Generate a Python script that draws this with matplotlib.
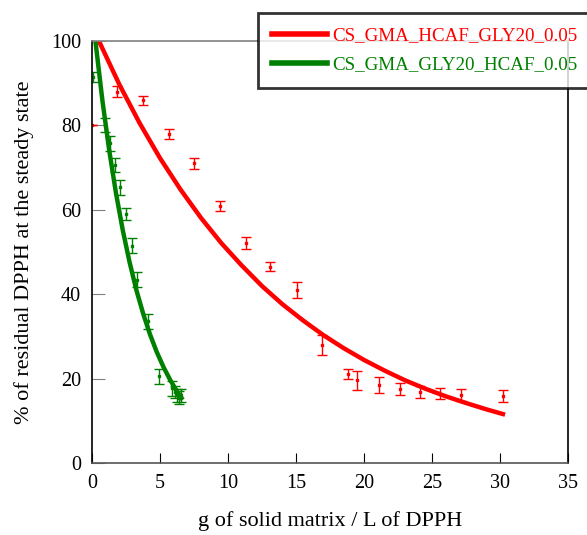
import numpy as np
import matplotlib.pyplot as plt

# measured points, red series
red_x = [0.0, 1.86, 3.77, 5.66, 7.52, 9.4, 11.3, 13.1, 15.05, 16.9, 18.8, 19.5, 21.1, 22.6, 24.1, 25.6, 27.1, 30.2]
red_y = [80.0, 88.0, 86.0, 78.0, 71.0, 61.0, 52.1, 46.5, 41.0, 28.0, 21.0, 19.6, 18.5, 17.5, 16.8, 16.4, 16.2, 15.9]
red_err = [0.0, 1.3, 1.1, 1.2, 1.2, 1.2, 1.4, 1.1, 1.8, 2.3, 1.2, 2.2, 1.8, 1.4, 1.4, 1.3, 1.4, 1.4]

# measured points, green series
green_x = [0.07, 0.93, 1.3, 1.66, 2.08, 2.52, 2.94, 3.33, 4.12, 4.93, 5.9, 6.1, 6.25, 6.4, 6.55]
green_y = [91.5, 80.1, 75.8, 70.6, 65.3, 59.0, 51.5, 43.4, 33.6, 20.5, 17.7, 16.8, 16.0, 15.5, 16.0]
green_err = [1.2, 1.6, 1.8, 1.6, 1.8, 1.5, 1.8, 1.8, 1.8, 1.8, 1.8, 1.5, 1.6, 1.5, 1.6]

# fitted curves
red_fit_x = [0.5, 2.0, 3.5, 5.0, 6.5, 8.0, 9.5, 11.0, 12.5, 14.0, 15.5, 17.0, 18.5, 20.0,
             21.5, 23.0, 24.5, 26.0, 27.5, 29.0, 30.2]
red_fit_y = [100.0, 89.7, 80.5, 72.2, 64.8, 58.1, 52.1, 46.8, 41.9, 37.6, 33.8, 30.3, 27.2, 24.4,
             21.9, 19.6, 17.6, 15.8, 14.2, 12.7, 11.6]
green_fit_x = [0.24, 0.75, 1.25, 1.75, 2.25, 2.75, 3.25, 3.75, 4.25, 4.75, 5.25, 5.75, 6.25, 6.57]
green_fit_y = [100.0, 86.0, 74.2, 64.0, 55.2, 47.6, 41.0, 35.4, 30.5, 26.3, 22.7, 19.6, 16.9, 15.4]

labels = ['CS_GMA_HCAF_GLY20_0.05', 'CS_GMA_GLY20_HCAF_0.05']
red = '#ff0000'
green = '#008000'

plt.rcParams['font.family'] = ['Liberation Serif', 'DejaVu Serif']

fig = plt.figure(figsize=(5.87, 5.35), dpi=100)
ax = fig.add_axes([0.157, 0.1346, 0.811, 0.7886])

l1, = ax.plot(red_fit_x, red_fit_y, color=red, lw=3.2, solid_joinstyle='round')
l2, = ax.plot(green_fit_x, green_fit_y, color=green, lw=3.2, solid_joinstyle='round')

ax.errorbar(red_x, red_y, yerr=red_err, fmt='s', ms=2, color=red, ecolor=red,
            elinewidth=1, capsize=3.5, capthick=1)
ax.errorbar(green_x, green_y, yerr=green_err, fmt='s', ms=2, color=green, ecolor=green,
            elinewidth=1, capsize=3.5, capthick=1)

ax.set_xlim(0, 35)
ax.set_ylim(0, 100)
ax.set_xticks(np.arange(0, 36, 5))
ax.set_yticks(np.arange(0, 101, 20))
ax.tick_params(axis='both', direction='in', labelsize=14.5, length=7, pad=8)
ax.tick_params(axis='y', colors='#808080', labelcolor='black', length=9)
ax.tick_params(axis='x', top=False, right=False)

ax.spines['top'].set_color('#808080')
ax.spines['bottom'].set_color('#555555')
for s in ax.spines.values():
    s.set_linewidth(1.2)

ax.set_xlabel('g of solid matrix / L of DPPH', fontsize=16, labelpad=13)
ax.set_ylabel('% of residual DPPH at the steady state', fontsize=16, labelpad=12)

leg = fig.legend([l1, l2], labels, loc='upper left', bbox_to_anchor=(258 / 587, 1 - 13 / 535),
                 borderaxespad=0, fontsize=13.7, frameon=True, fancybox=False, handlelength=2.85,
                 handletextpad=0.3, borderpad=0.75, labelspacing=0.6)
leg.get_frame().set_edgecolor('black')
leg.get_frame().set_linewidth(2)
for txt, c in zip(leg.get_texts(), [red, green]):
    txt.set_color(c)
for h in leg.legend_handles:
    h.set_linewidth(4)

fig.savefig('out.png', dpi=100)
